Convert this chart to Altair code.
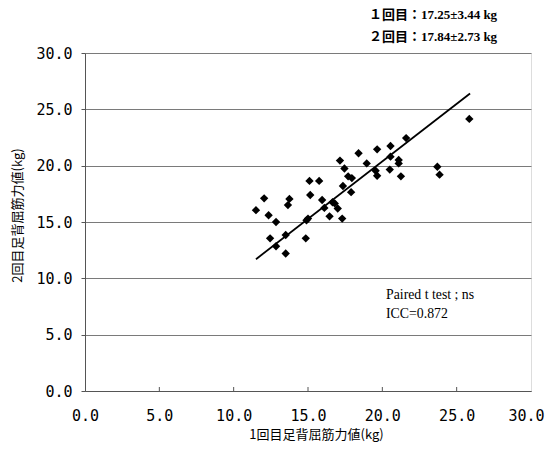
import altair as alt
import pandas as pd

# First and second measurement of ankle dorsiflexion strength (kg)
trial1 = [11.5, 12.05, 12.35, 12.85, 12.45, 12.85, 13.5, 13.5, 13.75, 13.65,
          14.9, 15.0, 14.85, 15.1, 15.75, 15.15, 15.95, 16.1, 16.45, 16.65,
          16.8, 17.0, 17.3, 17.15, 17.45, 17.7, 17.95, 17.35, 17.9, 18.4,
          18.95, 19.65, 19.55, 19.65, 20.55, 20.55, 20.5, 21.1, 21.1, 21.25,
          21.6, 23.7, 23.85, 25.85]
trial2 = [16.05, 17.1, 15.6, 15.0, 13.55, 12.85, 12.2, 13.85, 17.05, 16.5,
          15.15, 15.3, 13.55, 18.65, 18.65, 17.4, 16.95, 16.25, 15.5, 16.75,
          16.65, 16.2, 15.3, 20.45, 19.75, 19.05, 18.9, 18.2, 17.65, 21.1,
          20.2, 21.45, 19.55, 19.1, 21.75, 20.8, 19.65, 20.5, 20.2, 19.05,
          22.45, 19.9, 19.2, 24.15]

# Fitted line end points
fit_x = [11.5, 25.9]
fit_y = [11.7, 26.4]

axis_ticks = [0, 5, 10, 15, 20, 25, 30]
inner_ticks = [5, 10, 15, 20, 25]

stats_lines = ["１回目：17.25±3.44 kg", "２回目：17.84±2.73 kg"]
test_lines = ["Paired t test ; ns", "ICC=0.872"]

pts = pd.DataFrame({"x": trial1, "y": trial2})
fit = pd.DataFrame({"x": fit_x, "y": fit_y})
tk = pd.DataFrame({"x": inner_ticks})

xs = alt.Scale(domain=[0, 30], nice=False, zero=False)
ys = alt.Scale(domain=[0, 30], nice=False, zero=False)

label_font = "DejaVu Sans Mono"
title_font = "Noto Sans CJK JP"

xaxis = alt.Axis(values=axis_ticks, format=".1f", title="1回目足背屈筋力値(kg)",
                 grid=False, ticks=False, tickSize=0, labelPadding=17,
                 labelFont=label_font, labelFontSize=15, labelColor="#000",
                 labelOffset={"condition": {"test": "datum.value == 30", "value": -5},
                              "value": 0},
                 titleFont=title_font, titleFontSize=13, titleFontWeight="normal",
                 titleColor="#000", titlePadding=5, titleX=231,
                 domainColor="#555", labelFlush=False)
yaxis = alt.Axis(values=axis_ticks, format=".1f", title="2回目足背屈筋力値(kg)",
                 grid=True, gridColor="#7a7a7a", gridWidth=1,
                 tickSize=4, tickColor="#555", labelPadding=9,
                 labelFont=label_font, labelFontSize=15, labelColor="#000",
                 titleFont=title_font, titleFontSize=13, titleFontWeight="normal",
                 titleColor="#000", titlePadding=11, titleY=162,
                 domainColor="#555", labelFlush=False)

points = alt.Chart(pts).mark_point(shape="diamond", filled=True, color="#000",
                                   size=70, opacity=1).encode(
    x=alt.X("x:Q", scale=xs, axis=xaxis),
    y=alt.Y("y:Q", scale=ys, axis=yaxis),
)

line = alt.Chart(fit).mark_line(color="#000", strokeWidth=1.8).encode(
    x=alt.X("x:Q", scale=xs),
    y=alt.Y("y:Q", scale=ys),
)

ticks = alt.Chart(tk).mark_rule(color="#555", strokeWidth=1).encode(
    x=alt.X("x:Q", scale=xs),
    y=alt.value(338),
    y2=alt.value(334),
)

serif = "Liberation Serif, Noto Sans CJK JP"
stats1 = alt.Chart(pd.DataFrame({"t": [stats_lines[0]]})).mark_text(
    align="left", baseline="middle", font=serif, fontSize=13, fontWeight="bold",
    color="#000").encode(x=alt.value(284), y=alt.value(-38), text="t:N")
stats2 = alt.Chart(pd.DataFrame({"t": [stats_lines[1]]})).mark_text(
    align="left", baseline="middle", font=serif, fontSize=13, fontWeight="bold",
    color="#000").encode(x=alt.value(284), y=alt.value(-16), text="t:N")
test1 = alt.Chart(pd.DataFrame({"t": [test_lines[0]]})).mark_text(
    align="left", baseline="middle", font="Liberation Serif", fontSize=13.8,
    color="#000").encode(x=alt.value(301), y=alt.value(242), text="t:N")
test2 = alt.Chart(pd.DataFrame({"t": [test_lines[1]]})).mark_text(
    align="left", baseline="middle", font="Liberation Serif", fontSize=13.8,
    color="#000").encode(x=alt.value(301), y=alt.value(261), text="t:N")

chart = alt.layer(points, line, ticks, stats1, stats2, test1, test2).properties(
    width=446, height=338,
    autosize=alt.AutoSizeParams(type="none"),
    padding={"left": 77, "top": 45, "right": 14, "bottom": 54},
).configure_view(stroke="#555", strokeWidth=1).configure(background="white")

chart.save("out.html", embed_options={"renderer": "svg", "actions": False})
